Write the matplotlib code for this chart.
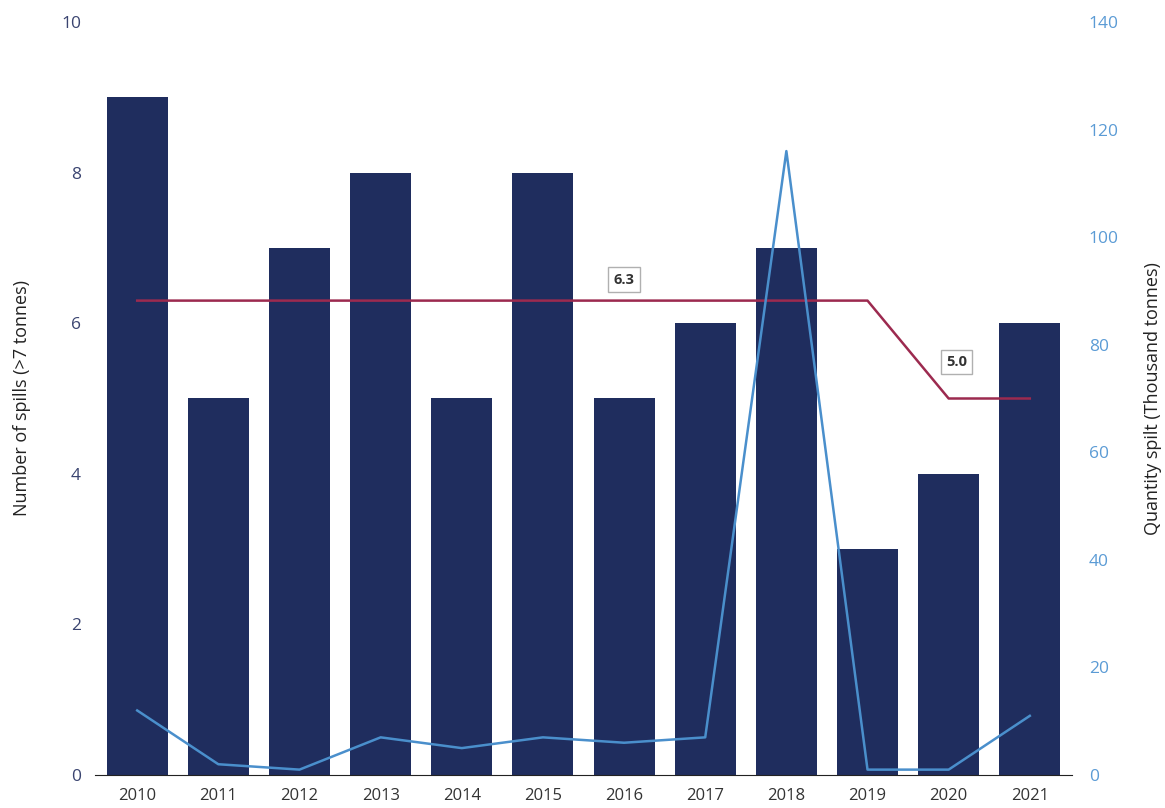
import matplotlib.pyplot as plt
import numpy as np

plt.rcParams['font.family'] = ['Open Sans', 'DejaVu Sans']

years = ['2010', '2011', '2012', '2013', '2014', '2015',
         '2016', '2017', '2018', '2019', '2020', '2021']
spills = [9, 5, 7, 8, 5, 8, 5, 6, 7, 3, 4, 6]
quantity = [12, 2, 1, 7, 5, 7, 6, 7, 116, 1, 1, 11]
average = [6.3, 6.3, 6.3, 6.3, 6.3, 6.3, 6.3, 6.3, 6.3, 6.3, 5.0, 5.0]

BAR = '#1f2d5e'
LINE = '#4a8fcc'
AVG = '#9c2a4f'


def main():
    fig = plt.figure(figsize=(11.65, 8.08), dpi=100)
    ax = fig.add_axes([95 / 1165, 1 - 775 / 808, (1072 - 95) / 1165, (775 - 22) / 808])
    x = np.arange(len(years))

    ax.bar(x, spills, width=0.75, color=BAR, zorder=2)
    ax.plot(x, average, color=AVG, lw=1.8, zorder=3)
    ax.set_xlim(-0.52, len(years) - 0.48)
    ax.set_ylim(0, 10)
    ax.set_xticks(x)
    ax.set_xticklabels(years)
    ax.set_yticks(np.arange(0, 11, 2))
    ax.set_ylabel('Number of spills (>7 tonnes)', fontsize=13, color='#222222')
    ax.yaxis.set_label_coords(-0.066, 0.5)
    for s in ['top', 'left', 'right']:
        ax.spines[s].set_visible(False)
    ax.spines['bottom'].set_color('#222222')
    ax.tick_params(axis='x', length=0, pad=9, labelsize=12, labelcolor='#333333')
    ax.tick_params(axis='y', length=0, pad=10, labelsize=12.5, labelcolor='#3a4470')

    # average labels
    box = dict(boxstyle='square,pad=0.35', fc='white', ec='#b0b0b0', lw=1)
    ax.text(6.0, 6.3 + 0.28, '6.3', ha='center', va='center', fontsize=10.5,
            fontweight='bold', color='#333333', bbox=box, zorder=4)
    ax.text(10.1, 5.0 + 0.48, '5.0', ha='center', va='center', fontsize=10.5,
            fontweight='bold', color='#333333', bbox=box, zorder=4)

    ax2 = ax.twinx()
    ax2.plot(x, quantity, color=LINE, lw=1.8, zorder=3)
    ax2.set_ylim(0, 140)
    ax2.set_yticks(np.arange(0, 141, 20))
    ax2.set_ylabel('Quantity spilt (Thousand tonnes)', fontsize=13, color='#222222')
    ax2.yaxis.set_label_coords(1.074, 0.5)
    for s in ['top', 'left', 'right', 'bottom']:
        ax2.spines[s].set_visible(False)
    ax2.tick_params(axis='y', length=0, pad=12, labelsize=12.5, labelcolor='#5b9bd5')

    fig.savefig('out.png', dpi=100)


if __name__ == "__main__":
    main()
